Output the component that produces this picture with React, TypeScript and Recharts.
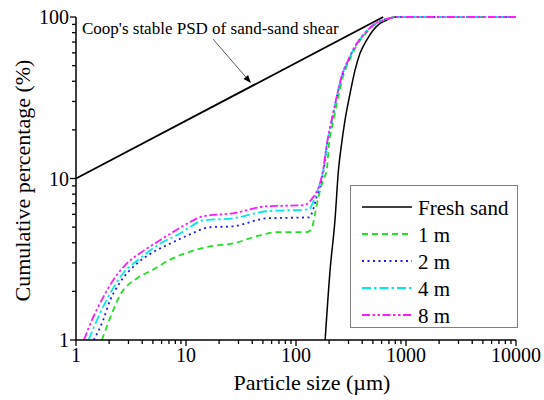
import React from "react";
import { LineChart, Line, XAxis, YAxis, Legend, ReferenceLine, Label } from "recharts";

// particle size (µm) vs cumulative percentage (%)
const freshSand: [number, number][] = [
  [184, 1], [204, 2.7], [226, 5.5], [243, 11.2], [260, 16.5], [279, 23], [310, 33.6],
  [344, 46.9], [382, 59.6], [439, 72], [505, 83], [580, 91.4], [668, 95.8], [746, 99.3], [850, 100],
];
const crushed1m: [number, number][] = [
  [1.72, 1], [2.17, 1.52], [2.51, 1.89], [3.59, 2.41], [5.0, 2.72], [7.2, 3.15], [10.4, 3.49],
  [16.5, 3.8], [26.7, 3.96], [47, 4.45], [67, 4.66], [125, 4.66], [139, 4.9], [149, 6.06],
  [160, 7.7], [177, 9.8], [190, 11.2], [200, 16.5], [219, 23], [242, 32], [267, 42.7],
  [306, 54], [352, 65.5], [418, 77.3], [515, 89.2], [632, 95.8], [725, 98.5], [830, 100], [10000, 100],
];
const crushed2m: [number, number][] = [
  [1.45, 1], [1.76, 1.32], [2.04, 1.76], [2.51, 2.27], [3.59, 2.98], [5.0, 3.49], [7.2, 3.96],
  [10.4, 4.45], [16.5, 4.99], [26.7, 5.06], [54.5, 5.67], [131, 5.75], [144, 6.5], [154, 7.7],
  [169, 9.5], [178, 11.2], [192, 16.5], [212, 23], [235, 32], [260, 42.7], [299, 54],
  [344, 65.5], [409, 77.3], [505, 89.2], [622, 95.8], [716, 98.5], [820, 100], [10000, 100],
];
const crushed4m: [number, number][] = [
  [1.3, 1], [1.65, 1.46], [2.04, 1.94], [2.67, 2.58], [3.82, 3.2], [5.8, 3.95], [8.8, 4.57],
  [10.4, 4.91], [14.3, 5.5], [26.7, 5.67], [54.5, 6.27], [131, 6.45], [149, 7.7], [165, 9.3],
  [177, 11.2], [192, 16.5], [212, 23], [235, 32], [260, 42.7], [299, 54],
  [344, 65.5], [409, 77.3], [505, 89.2], [622, 95.8], [716, 98.5], [820, 100], [10000, 100],
];
const crushed8m: [number, number][] = [
  [1.18, 1], [1.43, 1.38], [1.76, 1.83], [2.17, 2.34], [2.9, 2.98], [4.07, 3.55], [5.8, 4.15],
  [8.8, 4.95], [10.9, 5.38], [14.3, 5.83], [26.7, 6.09], [54.5, 6.73], [116, 6.83], [144, 7.7],
  [165, 9.3], [176, 11.2], [191, 16.5], [211, 23], [234, 32], [259, 42.7], [298, 54],
  [343, 65.5], [408, 77.3], [504, 89.2], [621, 95.8], [715, 98.5], [820, 100], [10000, 100],
];
const coopLine: [number, number][] = [[1, 10], [620, 100]];

const xTicks = [
  1, 2, 3, 4, 5, 6, 7, 8, 9,
  10, 20, 30, 40, 50, 60, 70, 80, 90,
  100, 200, 300, 400, 500, 600, 700, 800, 900,
  1000, 2000, 3000, 4000, 5000, 6000, 7000, 8000, 9000,
  10000,
];
const yTicks = [1, 2, 3, 4, 5, 6, 7, 8, 9, 10, 20, 30, 40, 50, 60, 70, 80, 90, 100];

const series = [
  { name: "Fresh sand", data: freshSand, color: "#000000", dash: undefined, width: 1.5 },
  { name: "1 m", data: crushed1m, color: "#22e022", dash: "6 4", width: 1.8 },
  { name: "2 m", data: crushed2m, color: "#1a1aff", dash: "2 3.5", width: 1.8 },
  { name: "4 m", data: crushed4m, color: "#00eaea", dash: "9 3 2.5 3", width: 1.8 },
  { name: "8 m", data: crushed8m, color: "#ff1aff", dash: "8 2.5 2.5 2.5 2.5 2.5", width: 1.8 },
];

const FONT = "Liberation Serif, Times New Roman, serif";
const txt = (size: number) => ({ fontFamily: FONT, fontSize: size });
const toPts = (arr: [number, number][]) => arr.map(([x, y]) => ({ x, y }));
const isMajor = (v: number) => Math.abs(Math.log10(v) - Math.round(Math.log10(v))) < 1e-9;

const XTick = ({ x, y, payload }: any) => {
  const major = isMajor(payload.value);
  return (
    <g>
      <line x1={x} y1={y} x2={x} y2={y + (major ? 6 : 4)} stroke="#000" strokeWidth={1.3} />
      {major && (
        <text x={x} y={y + 22} textAnchor="middle" style={txt(20)} fill="#000">
          {payload.value}
        </text>
      )}
    </g>
  );
};

const YTick = ({ x, y, payload }: any) => {
  const major = isMajor(payload.value);
  return (
    <g>
      <line x1={x} y1={y} x2={x - (major ? 6 : 4)} y2={y} stroke="#000" strokeWidth={1.3} />
      {major && (
        <text x={x - 7} y={y + 7} textAnchor="end" style={txt(20)} fill="#000">
          {payload.value}
        </text>
      )}
    </g>
  );
};

const Arrow = (props: any) => {
  const { x1, y1, x2, y2 } = props;
  const ang = Math.atan2(y2 - y1, x2 - x1);
  const L = 8, W = 3;
  const bx = x2 - L * Math.cos(ang);
  const by = y2 - L * Math.sin(ang);
  const pts = `${x2},${y2} ${bx + W * Math.sin(ang)},${by - W * Math.cos(ang)} ${bx - W * Math.sin(ang)},${by + W * Math.cos(ang)}`;
  return (
    <g>
      <line x1={x1} y1={y1} x2={bx} y2={by} stroke="#444" strokeWidth={0.9} />
      <polygon points={pts} fill="#000" />
    </g>
  );
};

const LegendBox = () => (
  <div style={{ width: 168, height: 143, border: "1px solid #808080", boxSizing: "border-box", background: "#fff" }}>
    <svg width={166} height={141} style={{ display: "block" }}>
      {series.map((s, i) => (
        <g key={s.name}>
          <line x1={11} x2={61} y1={21 + 27 * i} y2={21 + 27 * i} stroke={s.color}
            strokeWidth={s.width} strokeDasharray={s.dash} />
          <text x={67} y={29 + 27 * i} style={txt(21)} fill="#000">{s.name}</text>
        </g>
      ))}
    </svg>
  </div>
);

export default function App() {
  return (
    <div style={{ position: "relative", width: 544, height: 400, background: "#fff", fontFamily: FONT }}>
      <style>{"body{margin:0}"}</style>
      <LineChart width={544} height={400} margin={{ top: 17, right: 28, bottom: 0, left: 0 }}>
        <XAxis
          dataKey="x" type="number" scale="log" domain={[1, 10000]} ticks={xTicks} interval={0}
          height={60} tickSize={0} tickMargin={0} tickLine={false} tick={<XTick />}
          axisLine={{ stroke: "#000", strokeWidth: 1.5 }} allowDuplicatedCategory={false}
        >
          <Label content={({ viewBox }: any) => (
            <text x={viewBox.x + viewBox.width / 2 + 16} y={viewBox.y + 50} textAnchor="middle"
              style={txt(22)} fill="#000">Particle size (µm)</text>
          )} />
        </XAxis>
        <YAxis
          type="number" scale="log" domain={[1, 100]} ticks={yTicks} interval={0}
          width={76} tickSize={0} tickMargin={0} tickLine={false} tick={<YTick />}
          axisLine={{ stroke: "#000", strokeWidth: 1.5 }}
        >
          <Label content={({ viewBox }: any) => (
            <text x={30} y={viewBox.y + viewBox.height / 2 + 2} textAnchor="middle"
              transform={`rotate(-90 30 ${viewBox.y + viewBox.height / 2 + 2})`}
              style={txt(22)} fill="#000">Cumulative percentage (%)</text>
          )} />
        </YAxis>
        <Line data={toPts(coopLine)} dataKey="y" type="linear" stroke="#000" strokeWidth={1.8}
          dot={false} legendType="none" isAnimationActive={false} />
        {series.map((s) => (
          <Line key={s.name} name={s.name} data={toPts(s.data)} dataKey="y" type="monotone"
            stroke={s.color} strokeWidth={s.width} strokeDasharray={s.dash}
            dot={false} isAnimationActive={false} />
        ))}
        <ReferenceLine segment={[{ x: 17.6, y: 73 }, { x: 39, y: 39 }]} shape={<Arrow />} />
        <Legend content={<LegendBox />} layout="vertical" align="center" verticalAlign="middle"
          wrapperStyle={{ left: 350, top: 185, width: 168, height: 143 }} />
      </LineChart>
      <div style={{ position: "absolute", left: 82, top: 20, fontSize: 17, lineHeight: "17px",
        fontFamily: FONT, color: "#000", whiteSpace: "nowrap" }}>
        Coop's stable PSD of sand-sand shear
      </div>
    </div>
  );
}
